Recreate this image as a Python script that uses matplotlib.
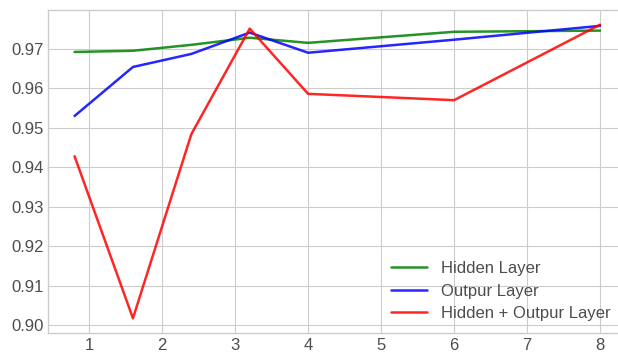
import matplotlib
matplotlib.use('Agg')
import matplotlib.pyplot as plt

x_vals = [0.8, 1.6, 2.4, 3.2, 4, 6, 8]
hidden = [0.9692, 0.9695, 0.9710, 0.9728, 0.9715, 0.9743, 0.9746]
output = [0.9530, 0.9654, 0.9687, 0.9741, 0.9690, 0.9723, 0.9758]
both = [0.9428, 0.9018, 0.9484, 0.9751, 0.9586, 0.9570, 0.9761]

plt.style.use('seaborn-v0_8-whitegrid')
plt.rcParams['font.family'] = ['Liberation Sans', 'DejaVu Sans']
plt.rcParams['text.color'] = '0.3'
plt.rcParams['xtick.color'] = '0.3'
plt.rcParams['ytick.color'] = '0.3'

fig = plt.figure(figsize=(6.18, 3.52), dpi=100)
# the right edge of the axes runs past the image in the reference
ax = fig.add_axes([48.3 / 618, 19 / 352, 578 / 618, 323 / 352])

ax.plot(x_vals, hidden, color='g', alpha=0.85, lw=1.8, label='Hidden Layer')
ax.plot(x_vals, output, color='b', alpha=0.85, lw=1.8, label='Outpur Layer')
ax.plot(x_vals, both, color='r', alpha=0.85, lw=1.8, label='Hidden + Outpur Layer')

ax.set_yticks([0.90, 0.91, 0.92, 0.93, 0.94, 0.95, 0.96, 0.97])
ax.tick_params(labelsize=12)
ax.legend(loc='lower right', fontsize=12, frameon=False,
          handlelength=2.2, handletextpad=0.8, labelspacing=0.45,
          bbox_to_anchor=(0.998, -0.01))

fig.savefig('out.png', dpi=100)
